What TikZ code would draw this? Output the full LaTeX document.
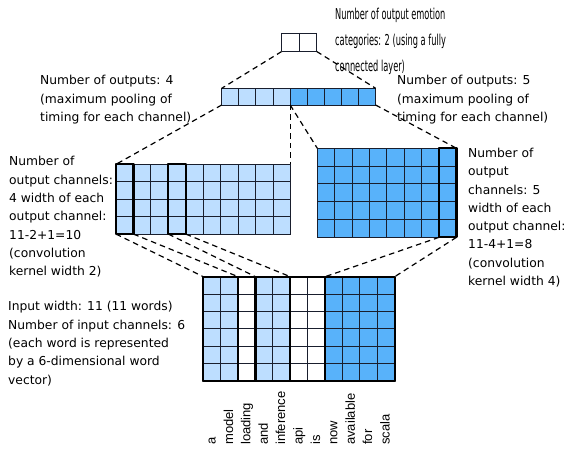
\documentclass[tikz,border=0pt]{standalone}
\usepackage{fontspec}
\setmainfont{DejaVu Sans}
\newfontfamily\wordfont{Liberation Sans}
\newfontfamily\narrowfont[FakeStretch=0.55]{DejaVu Sans}
\definecolor{lightcell}{RGB}{189,222,255}
\definecolor{darkcell}{RGB}{88,178,250}
\definecolor{gridcol}{RGB}{25,30,45}
\tikzset{
  gridline/.style={draw=gridcol, line width=0.9pt},
  boldbox/.style={draw=black, line width=2.2pt, line join=round},
  conn/.style={draw=black, line width=1.2pt, dash pattern=on 5.5pt off 4pt},
  txt/.style={inner sep=0pt, align=left, font=\fontsize{12.3}{18.3}\selectfont},
  toptxt/.style={inner sep=0pt, align=left, font=\narrowfont\fontsize{15}{25.8}\selectfont},
  word/.style={inner sep=0pt, font=\wordfont\fontsize{13}{14}\selectfont}
}
% grid lines: x0, y0, ncols, nrows, w, h
\newcommand{\mygrid}[6]{%
  \foreach \gi in {0,...,#3} \draw[gridline] ({#1+\gi*#5},#2) -- ++(0,{#4*#6});
  \foreach \gj in {0,...,#4} \draw[gridline] (#1,{#2+\gj*#6}) -- ++({#3*#5},0);
}
\begin{document}
\begin{tikzpicture}[x=1pt,y=-1pt]
\useasboundingbox[fill=white] (0,0) rectangle (566,454);

% ---------- top box (2 outputs) ----------
\mygrid{281.7}{33}{2}{1}{17.5}{18.5}
\coordinate (tbl) at (281.7,51.5);
\coordinate (tbr) at (316.7,51.5);

% ---------- pooling bar ----------
\fill[lightcell] (221.7,88.3) rectangle ++(4*17.1,16.7);
\fill[darkcell] (290.1,88.3) rectangle ++(5*17.1,16.7);
\mygrid{221.7}{88.3}{9}{1}{17.1}{16.7}
\coordinate (btl) at (221.7,88.3);
\coordinate (btr) at (375.6,88.3);
\coordinate (bbl) at (221.7,105);
\coordinate (bbm) at (290.2,105);
\coordinate (bbr) at (375.6,105);

% ---------- left conv grid (4 x 10) ----------
\fill[lightcell] (116,164.3) rectangle ++(10*17.45,4*17.45);
\mygrid{116}{164.3}{10}{4}{17.45}{17.45}
\draw[boldbox] (116,164.3) rectangle ++(17.45,4*17.45);
\draw[boldbox] (168.35,164.3) rectangle ++(17.45,4*17.45);
\coordinate (ltl) at (116,164.3);
\coordinate (ltr) at (290.2,164.3);
\coordinate (la1) at (116,234.1);
\coordinate (la2) at (133.45,234.1);
\coordinate (lb1) at (168.35,234.1);
\coordinate (lb2) at (185.8,234.1);

% ---------- right conv grid (5 x 8) ----------
\fill[darkcell] (317.3,148.3) rectangle ++(8*17.4,5*17.8);
\mygrid{317.3}{148.3}{8}{5}{17.4}{17.8}
\draw[boldbox] (439.1,148.3) rectangle ++(17.4,5*17.8);
\coordinate (rtl) at (317.3,148.3);
\coordinate (rtr) at (456.5,148.3);
\coordinate (rc1) at (439.1,237.3);
\coordinate (rc2) at (456.5,237.3);

% ---------- input grid (6 x 11) ----------
\fill[lightcell] (203.3,276.7) rectangle ++(2*17.4,6*17.4);
\fill[lightcell] (255.5,276.7) rectangle ++(2*17.4,6*17.4);
\fill[darkcell] (325.1,276.7) rectangle ++(4*17.4,6*17.4);
\mygrid{203.3}{276.7}{11}{6}{17.4}{17.4}
\draw[boldbox] (203.3,276.7) rectangle ++(11*17.4,6*17.4);
\draw[boldbox] (203.3,276.7) rectangle ++(2*17.4,6*17.4);
\draw[boldbox] (255.5,276.7) rectangle ++(2*17.4,6*17.4);
\draw[boldbox] (325.1,276.7) rectangle ++(4*17.4,6*17.4);
\coordinate (ia1) at (203.3,276.7);
\coordinate (ia2) at (238.1,276.7);
\coordinate (ib1) at (255.5,276.7);
\coordinate (ib2) at (290.3,276.7);
\coordinate (ic1) at (325.1,276.7);
\coordinate (ic2) at (394.7,276.7);

% ---------- dashed connectors ----------
\draw[conn] (tbl) -- (btl);
\draw[conn] (tbr) -- (btr);
\draw[conn] (bbl) -- (ltl);
\draw[conn] (bbm) -- (ltr);
\draw[conn] (bbm) -- (rtl);
\draw[conn] (bbr) -- (rtr);
\draw[conn] (la1) -- (ia1);
\draw[conn] (la2) -- (ia2);
\draw[conn] (lb1) -- (ib1);
\draw[conn] (lb2) -- (ib2);
\draw[conn] (rc1) -- (ic1);
\draw[conn] (rc2) -- (ic2);

% ---------- texts (base anchor = baseline of last line) ----------
\node[toptxt, anchor=base west] (ttop) at (335,71.6) {Number of output emotion\\categories: 2 (using a fully\\connected layer)};
\node[txt, anchor=base west] (tp4) at (40,121.6) {Number of outputs: 4\\(maximum pooling of\\timing for each channel)};
\node[txt, anchor=base west] (tp5) at (397,121.6) {Number of outputs: 5\\(maximum pooling of\\timing for each channel)};
\node[txt, anchor=base west] (tl) at (9,275.8) {Number of\\output channels:\\4 width of each\\output channel:\\11-2+1=10\\(convolution\\kernel width 2)};
\node[txt, anchor=base west] (tr) at (468,285.6) {Number of\\output\\channels: 5\\width of each\\output channel:\\11-4+1=8\\(convolution\\kernel width 4)};
\node[txt, anchor=base west] (tin) at (8,384.2) {Input width: 11 (11 words)\\Number of input channels: 6\\(each word is represented\\by a 6-dimensional word\\vector)};

\foreach \w [count=\k from 0] in {a,model,loading,and,inference,api,is,now,available,for,scala}
  \node[word, rotate=90, anchor=base west] (w\k) at ({203.3+(\k+0.5)*17.4+3.6},445) {\w};
\end{tikzpicture}
\end{document}
